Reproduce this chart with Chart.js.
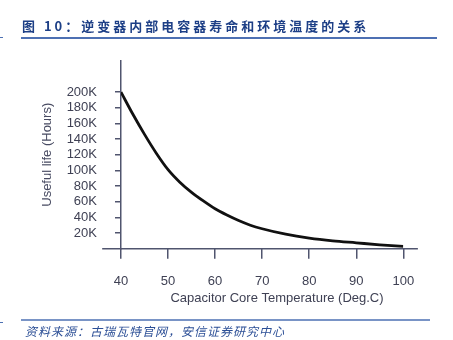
<!DOCTYPE html>
<html>
<head>
<meta charset="utf-8">
<script src="https://cdn.jsdelivr.net/npm/chart.js@4/dist/chart.umd.min.js"></script>
<style>
  body { margin: 0; background: #fff; }
  #wrap { width: 453px; height: 340px; }
</style>
</head>
<body>
<div id="wrap"><canvas id="plot" width="453" height="340"></canvas></div>
<script>
// temperatura del nucleo (Deg.C) y vida util (miles de horas)
let temps = [40, 42.5, 45, 47.5, 50, 52.5, 55, 57.5, 60, 62.5, 65, 67.5, 70, 75, 80, 85, 90, 95, 100];
let lifeK = [200, 172, 146, 122, 101, 85, 72, 61, 51, 43, 36, 30, 25.5, 18.5, 13.5, 10, 7.5, 5, 3];
let xTicks = [40, 50, 60, 70, 80, 90, 100];
let yHidden = [0, 220000, 240000];

let tituloTexto = '图 10：逆变器内部电容器寿命和环境温度的关系';
let fuenteTexto = '资料来源：古瑞瓦特官网，安信证券研究中心';
let tituloX = 'Capacitor Core Temperature (Deg.C)';
let tituloY = 'Useful life (Hours)';

let colorEje = '#50556e';
let colorTexto = '#3f4154';

let decoraciones = {
  id: 'decoraciones',
  afterDraw: (chart) => {
    let ctx = chart.ctx;
    let xs = chart.scales.x;
    let ys = chart.scales.y;
    ctx.save();

    // encabezado
    ctx.fillStyle = '#1d3f86';
    ctx.font = 'bold 13px "Noto Sans CJK SC"';
    ctx.letterSpacing = '3px';
    ctx.textBaseline = 'middle';
    ctx.textAlign = 'left';
    ctx.fillText(tituloTexto, 22, 26);
    ctx.letterSpacing = '0px';
    ctx.strokeStyle = '#4d70b3';
    ctx.lineWidth = 2;
    ctx.beginPath(); ctx.moveTo(21, 38); ctx.lineTo(437, 38); ctx.stroke();
    ctx.lineWidth = 1;
    ctx.beginPath(); ctx.moveTo(0, 37.5); ctx.lineTo(3, 37.5); ctx.stroke();

    // linea del eje x extendida
    let y0 = ys.getPixelForValue(0);
    ctx.strokeStyle = colorEje;
    ctx.lineWidth = 1.5;
    ctx.beginPath();
    ctx.moveTo(xs.getPixelForValue(36), y0);
    ctx.lineTo(xs.getPixelForValue(103.1), y0);
    ctx.stroke();

    // titulo eje x
    ctx.fillStyle = colorTexto;
    ctx.font = '13px "Liberation Sans"';
    ctx.textAlign = 'center';
    ctx.fillText(tituloX, 277, 298);

    // pie
    ctx.strokeStyle = '#4d70b3';
    ctx.lineWidth = 1.5;
    ctx.beginPath(); ctx.moveTo(21, 320); ctx.lineTo(430, 320); ctx.stroke();
    ctx.lineWidth = 1;
    ctx.beginPath(); ctx.moveTo(0, 322.5); ctx.lineTo(3, 322.5); ctx.stroke();
    ctx.fillStyle = '#2c4f96';
    ctx.font = 'italic 12px "Noto Sans CJK SC"';
    ctx.letterSpacing = '1px';
    ctx.textAlign = 'left';
    ctx.fillText(fuenteTexto, 25, 331);
    ctx.restore();
  }
};

let plotRef = document.getElementById('plot');

let config = {
  type: 'line',
  data: {
    datasets: [
      {
        label: tituloY,
        data: temps.map((t, i) => ({ x: t, y: lifeK[i] * 1000 })),
        borderColor: '#111111',
        borderWidth: 2.8,
        pointRadius: 0,
        fill: false,
        cubicInterpolationMode: 'monotone'
      }
    ]
  },
  options: {
    responsive: false,
    animation: false,
    layout: { padding: { top: 60.8, right: 49.7, bottom: 0, left: 0 } },
    plugins: { legend: { display: false }, tooltip: { enabled: false } },
    scales: {
      x: {
        type: 'linear',
        min: 40,
        max: 100,
        afterBuildTicks: (scale) => { scale.ticks = xTicks.map(v => ({ value: v })); },
        afterFit: (scale) => { scale.height = 91.3; },
        border: { display: false },
        grid: { drawOnChartArea: false, tickLength: 10, color: colorEje, lineWidth: 1.5 },
        ticks: { color: colorTexto, font: { family: 'Liberation Sans', size: 13 }, padding: 15, maxRotation: 0 }
      },
      y: {
        min: 0,
        max: 240000,
        afterFit: (scale) => { scale.width = 121; },
        border: { display: true, color: colorEje, width: 1.5 },
        grid: {
          drawOnChartArea: false,
          tickLength: 6,
          lineWidth: 1.5,
          color: (c) => yHidden.includes(c.tick.value) ? 'rgba(0,0,0,0)' : colorEje
        },
        ticks: {
          stepSize: 20000,
          autoSkip: false,
          color: colorTexto,
          font: { family: 'Liberation Sans', size: 13 },
          padding: 18,
          callback: (v) => yHidden.includes(v) ? '' : (v / 1000) + 'K'
        },
        title: {
          display: true,
          text: tituloY,
          color: '#484b62',
          font: { family: 'Liberation Sans', size: 13 },
          padding: { top: 39.7, bottom: 0 }
        }
      }
    }
  },
  plugins: [decoraciones]
};

let chart1 = new Chart(plotRef, config);
</script>
</body>
</html>
